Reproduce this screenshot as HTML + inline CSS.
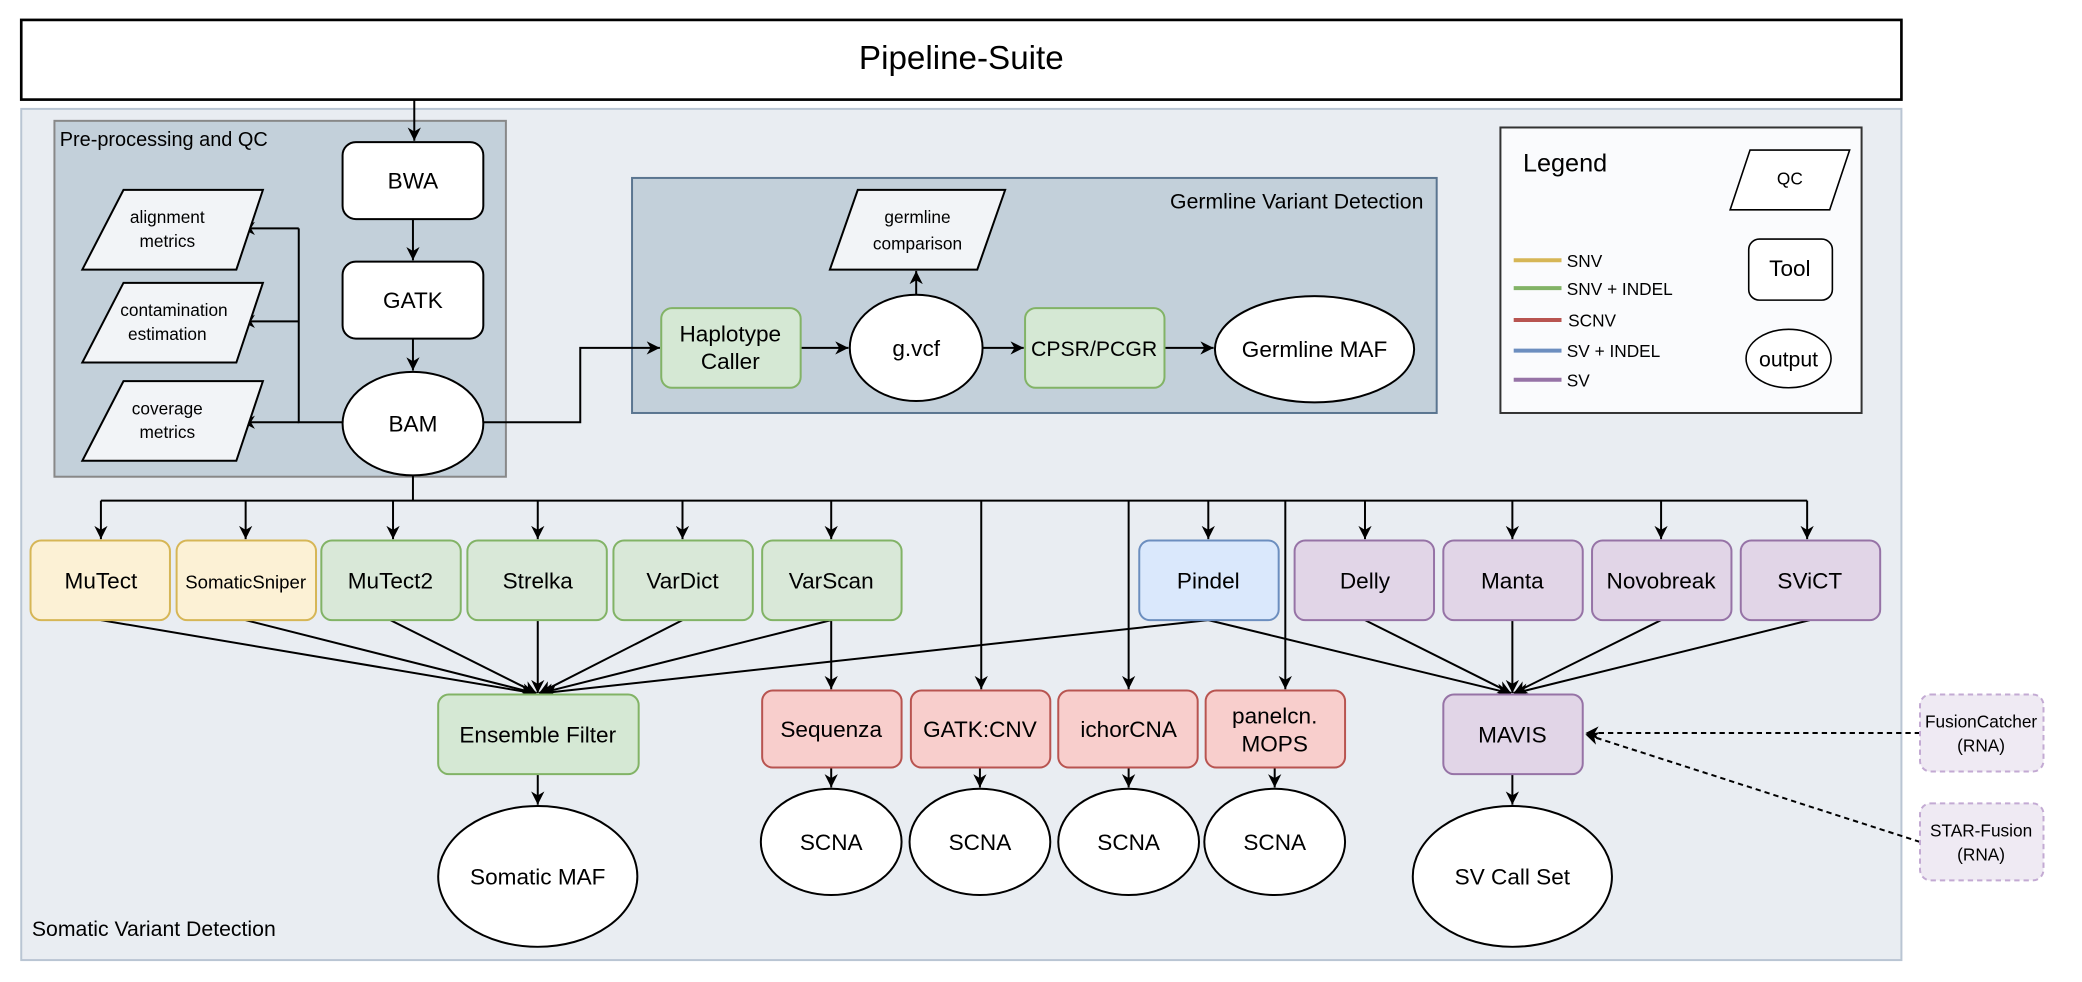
<!DOCTYPE html>
<html><head><meta charset="utf-8"><style>html,body{margin:0;padding:0;background:#fff}svg{display:block}text{font-family:"Liberation Sans",sans-serif;fill:#000}</style></head>
<body>
<svg width="2082" height="982" viewBox="0 0 1568 739.5" preserveAspectRatio="none" xmlns="http://www.w3.org/2000/svg">
<defs>
<marker id="b" viewBox="0 0 10 10" refX="10" refY="5" markerWidth="10" markerHeight="10" orient="auto" markerUnits="userSpaceOnUse"><path d="M0,0 L10,5 L0,10 L3,5 z" fill="#000"/></marker>
</defs>
<rect x="16" y="15" width="1416" height="60" fill="#fff" stroke="#000" stroke-width="2"/>
<text x="724" y="52" font-size="25" text-anchor="middle">Pipeline-Suite</text>
<rect x="16" y="82" width="1416" height="641" fill="#e9edf2" stroke="#b9c5d3" stroke-width="1.5"/>
<text x="24" y="705" font-size="16">Somatic Variant Detection</text>
<!-- preprocessing -->
<rect x="41" y="91" width="340" height="268" fill="#c3d0da" stroke="#888" stroke-width="1.5"/>
<text x="45" y="110" font-size="15">Pre-processing and QC</text>
<rect x="258" y="107" width="106" height="58" rx="10" fill="#fff" stroke="#000" stroke-width="1.5"/>
<text x="311" y="142" font-size="17" text-anchor="middle">BWA</text>
<rect x="258" y="197" width="106" height="58" rx="10" fill="#fff" stroke="#000" stroke-width="1.5"/>
<text x="311" y="232" font-size="17" text-anchor="middle">GATK</text>
<ellipse cx="311" cy="319" rx="53" ry="39" fill="#fff" stroke="#000" stroke-width="1.5"/>
<text x="311" y="325" font-size="17" text-anchor="middle">BAM</text>
<g stroke="#000" stroke-width="1.5" fill="none">
<line x1="312" y1="75" x2="312" y2="106" marker-end="url(#b)"/>
<line x1="311" y1="165" x2="311" y2="196" marker-end="url(#b)"/>
<line x1="311" y1="255" x2="311" y2="279" marker-end="url(#b)"/>
<polyline points="258,318 225,318 225,172"/>
<line x1="225" y1="172" x2="182" y2="172" marker-end="url(#b)"/>
<line x1="225" y1="242" x2="182" y2="242" marker-end="url(#b)"/>
<line x1="225" y1="318" x2="182" y2="318" marker-end="url(#b)"/>
</g>
<g fill="#f2f4f7" stroke="#000" stroke-width="1.5">
<polygon points="93,143 198,143 178,203 62,203"/>
<polygon points="93,213 198,213 178,273 62,273"/>
<polygon points="93,287 198,287 178,347 62,347"/>
</g>
<g font-size="13" text-anchor="middle">
<text x="126" y="168">alignment</text><text x="126" y="186">metrics</text>
<text x="131" y="238">contamination</text><text x="126" y="256">estimation</text>
<text x="126" y="312">coverage</text><text x="126" y="330">metrics</text>
</g>
<!-- germline -->
<rect x="476" y="134" width="606" height="177" fill="#c3d0da" stroke="#5a7590" stroke-width="1.5"/>
<text x="1072" y="157" font-size="16" text-anchor="end">Germline Variant Detection</text>
<g stroke="#000" stroke-width="1.5" fill="none">
<polyline points="364,318 437,318 437,262 497,262" marker-end="url(#b)"/>
<line x1="603" y1="262" x2="639" y2="262" marker-end="url(#b)"/>
<line x1="740" y1="262" x2="771" y2="262" marker-end="url(#b)"/>
<line x1="877" y1="262" x2="914" y2="262" marker-end="url(#b)"/>
<line x1="690" y1="222" x2="690" y2="204" marker-end="url(#b)"/>
</g>
<polygon points="646,143 757,143 736,203 625,203" fill="#f2f4f7" stroke="#000" stroke-width="1.5"/>
<text x="691" y="168" font-size="13" text-anchor="middle">germline</text><text x="691" y="188" font-size="13" text-anchor="middle">comparison</text>
<rect x="498" y="232" width="105" height="60" rx="8" fill="#d5e8d4" stroke="#82b366" stroke-width="1.5"/>
<text x="550" y="257" font-size="17" text-anchor="middle">Haplotype</text><text x="550" y="278" font-size="17" text-anchor="middle">Caller</text>
<ellipse cx="690" cy="262" rx="50" ry="40" fill="#fff" stroke="#000" stroke-width="1.5"/>
<text x="690" y="268" font-size="17" text-anchor="middle">g.vcf</text>
<rect x="772" y="232" width="105" height="60" rx="8" fill="#d5e8d4" stroke="#82b366" stroke-width="1.5"/>
<text x="824" y="268" font-size="16" text-anchor="middle">CPSR/PCGR</text>
<ellipse cx="990" cy="263" rx="75" ry="40" fill="#fff" stroke="#000" stroke-width="1.5"/>
<text x="990" y="269" font-size="17" text-anchor="middle">Germline MAF</text>
<!-- legend -->
<rect x="1130" y="96" width="272" height="215" fill="#fafbfd" stroke="#333" stroke-width="1.5"/>
<text x="1147" y="129" font-size="19">Legend</text>
<polygon points="1318,113 1393,113 1378,158 1303,158" fill="#fff" stroke="#000" stroke-width="1.2"/>
<text x="1348" y="139" font-size="13" text-anchor="middle">QC</text>
<rect x="1317" y="180" width="63" height="46" rx="8" fill="#fff" stroke="#000" stroke-width="1.2"/>
<text x="1348" y="208" font-size="17" text-anchor="middle">Tool</text>
<ellipse cx="1347" cy="270" rx="32" ry="22" fill="#fff" stroke="#000" stroke-width="1.2"/>
<text x="1347" y="276" font-size="16" text-anchor="middle">output</text>
<g stroke-width="3">
<line x1="1140" y1="196" x2="1176" y2="196" stroke="#d6b656"/>
<line x1="1140" y1="217" x2="1176" y2="217" stroke="#82b366"/>
<line x1="1140" y1="241" x2="1176" y2="241" stroke="#b85450"/>
<line x1="1140" y1="264" x2="1176" y2="264" stroke="#6c8ebf"/>
<line x1="1140" y1="286" x2="1176" y2="286" stroke="#9673a6"/>
</g>
<g font-size="13">
<text x="1180" y="201">SNV</text><text x="1180" y="222">SNV + INDEL</text><text x="1181" y="246">SCNV</text><text x="1180" y="269">SV + INDEL</text><text x="1180" y="291">SV</text>
</g>
<!-- somatic bus -->
<g stroke="#000" stroke-width="1.5" fill="none">
<line x1="311" y1="358" x2="311" y2="377"/>
<line x1="76" y1="377" x2="1361" y2="377"/>
<line x1="76" y1="377" x2="76" y2="406" marker-end="url(#b)"/>
<line x1="185" y1="377" x2="185" y2="406" marker-end="url(#b)"/>
<line x1="296" y1="377" x2="296" y2="406" marker-end="url(#b)"/>
<line x1="405" y1="377" x2="405" y2="406" marker-end="url(#b)"/>
<line x1="514" y1="377" x2="514" y2="406" marker-end="url(#b)"/>
<line x1="626" y1="377" x2="626" y2="406" marker-end="url(#b)"/>
<line x1="739" y1="377" x2="739" y2="519" marker-end="url(#b)"/>
<line x1="850" y1="377" x2="850" y2="519" marker-end="url(#b)"/>
<line x1="968" y1="377" x2="968" y2="519" marker-end="url(#b)"/>
<line x1="910" y1="377" x2="910" y2="406" marker-end="url(#b)"/>
<line x1="1028" y1="377" x2="1028" y2="406" marker-end="url(#b)"/>
<line x1="1139" y1="377" x2="1139" y2="406" marker-end="url(#b)"/>
<line x1="1251" y1="377" x2="1251" y2="406" marker-end="url(#b)"/>
<line x1="1361" y1="377" x2="1361" y2="406" marker-end="url(#b)"/>
<line x1="76" y1="467" x2="402" y2="522" marker-end="url(#b)"/>
<line x1="185" y1="467" x2="403" y2="522" marker-end="url(#b)"/>
<line x1="294" y1="467" x2="404" y2="522" marker-end="url(#b)"/>
<line x1="405" y1="467" x2="405" y2="522" marker-end="url(#b)"/>
<line x1="514" y1="467" x2="406" y2="522" marker-end="url(#b)"/>
<line x1="626" y1="467" x2="407" y2="522" marker-end="url(#b)"/>
<line x1="910" y1="467" x2="409" y2="522" marker-end="url(#b)"/>
<line x1="626" y1="467" x2="626" y2="519" marker-end="url(#b)"/>
<line x1="405" y1="583" x2="405" y2="606" marker-end="url(#b)"/>
<line x1="910" y1="467" x2="1137" y2="522" marker-end="url(#b)"/>
<line x1="1028" y1="467" x2="1138" y2="522" marker-end="url(#b)"/>
<line x1="1139" y1="467" x2="1139" y2="522" marker-end="url(#b)"/>
<line x1="1251" y1="467" x2="1140" y2="522" marker-end="url(#b)"/>
<line x1="1363" y1="467" x2="1141" y2="522" marker-end="url(#b)"/>
<line x1="1139" y1="583" x2="1139" y2="606" marker-end="url(#b)"/>
<line x1="626" y1="578" x2="626" y2="593" marker-end="url(#b)"/>
<line x1="738" y1="578" x2="738" y2="593" marker-end="url(#b)"/>
<line x1="850" y1="578" x2="850" y2="593" marker-end="url(#b)"/>
<line x1="960" y1="578" x2="960" y2="593" marker-end="url(#b)"/>
<line x1="1446" y1="552" x2="1194" y2="552" stroke-dasharray="4,3" marker-end="url(#b)"/>
<line x1="1446" y1="634" x2="1194" y2="553" stroke-dasharray="4,3" marker-end="url(#b)"/>
</g>
<g stroke-width="1.5">
<rect x="23" y="407" width="105" height="60" rx="8" fill="#fcf1d5" stroke="#d6b656"/>
<rect x="133" y="407" width="105" height="60" rx="8" fill="#fcf1d5" stroke="#d6b656"/>
<rect x="242" y="407" width="105" height="60" rx="8" fill="#d9e8d8" stroke="#82b366"/>
<rect x="352" y="407" width="105" height="60" rx="8" fill="#d9e8d8" stroke="#82b366"/>
<rect x="462" y="407" width="105" height="60" rx="8" fill="#d9e8d8" stroke="#82b366"/>
<rect x="574" y="407" width="105" height="60" rx="8" fill="#d9e8d8" stroke="#82b366"/>
<rect x="858" y="407" width="105" height="60" rx="8" fill="#dae8fc" stroke="#6c8ebf"/>
<rect x="975" y="407" width="105" height="60" rx="8" fill="#e1d5e7" stroke="#9673a6"/>
<rect x="1087" y="407" width="105" height="60" rx="8" fill="#e1d5e7" stroke="#9673a6"/>
<rect x="1199" y="407" width="105" height="60" rx="8" fill="#e1d5e7" stroke="#9673a6"/>
<rect x="1311" y="407" width="105" height="60" rx="8" fill="#e1d5e7" stroke="#9673a6"/>
<rect x="330" y="523" width="151" height="60" rx="8" fill="#d5e8d4" stroke="#82b366"/>
<rect x="574" y="520" width="105" height="58" rx="8" fill="#f8cecc" stroke="#b85450"/>
<rect x="686" y="520" width="105" height="58" rx="8" fill="#f8cecc" stroke="#b85450"/>
<rect x="797" y="520" width="105" height="58" rx="8" fill="#f8cecc" stroke="#b85450"/>
<rect x="908" y="520" width="105" height="58" rx="8" fill="#f8cecc" stroke="#b85450"/>
<rect x="1087" y="523" width="105" height="60" rx="8" fill="#e1d5e7" stroke="#9673a6"/>
<rect x="1446" y="523" width="93" height="58" rx="8" fill="#efeaf3" stroke="#c3aad3" stroke-dasharray="4,3"/>
<rect x="1446" y="605" width="93" height="58" rx="8" fill="#efeaf3" stroke="#c3aad3" stroke-dasharray="4,3"/>
</g>
<g font-size="17" text-anchor="middle">
<text x="76" y="443">MuTect</text>
<text x="185" y="443" font-size="14">SomaticSniper</text>
<text x="294" y="443">MuTect2</text>
<text x="405" y="443">Strelka</text>
<text x="514" y="443">VarDict</text>
<text x="626" y="443">VarScan</text>
<text x="910" y="443">Pindel</text>
<text x="1028" y="443">Delly</text>
<text x="1139" y="443">Manta</text>
<text x="1251" y="443">Novobreak</text>
<text x="1363" y="443">SViCT</text>
<text x="405" y="559">Ensemble Filter</text>
<text x="626" y="555">Sequenza</text>
<text x="738" y="555">GATK:CNV</text>
<text x="850" y="555">ichorCNA</text>
<text x="960" y="545">panelcn.</text><text x="960" y="566">MOPS</text>
<text x="1139" y="559">MAVIS</text>
<text x="1492" y="548" font-size="13">FusionCatcher</text><text x="1492" y="566" font-size="13">(RNA)</text>
<text x="1492" y="630" font-size="13">STAR-Fusion</text><text x="1492" y="648" font-size="13">(RNA)</text>
</g>
<g fill="#fff" stroke="#000" stroke-width="1.5">
<ellipse cx="405" cy="660" rx="75" ry="53"/>
<ellipse cx="1139" cy="660" rx="75" ry="53"/>
<ellipse cx="626" cy="634" rx="53" ry="40"/>
<ellipse cx="738" cy="634" rx="53" ry="40"/>
<ellipse cx="850" cy="634" rx="53" ry="40"/>
<ellipse cx="960" cy="634" rx="53" ry="40"/>
</g>
<g font-size="17" text-anchor="middle">
<text x="405" y="666">Somatic MAF</text>
<text x="1139" y="666">SV Call Set</text>
<text x="626" y="640">SCNA</text><text x="738" y="640">SCNA</text><text x="850" y="640">SCNA</text><text x="960" y="640">SCNA</text>
</g>
</svg>
</body></html>
